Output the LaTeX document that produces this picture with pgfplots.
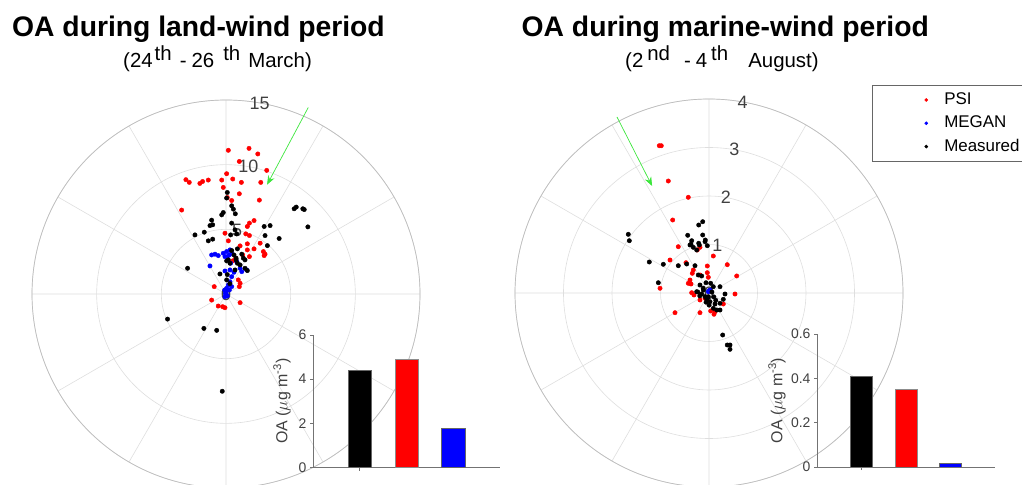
\documentclass[border=0pt]{standalone}
\usepackage{fontspec}
\setmainfont{Liberation Sans}
\usepackage{pgfplots}
\usepackage{pgfplotstable}
\pgfplotsset{compat=1.18}
\usepgfplotslibrary{polar}
\usetikzlibrary{arrows.meta}
\definecolor{gridc}{RGB}{222,222,222}
\definecolor{ringc}{RGB}{190,190,190}
\definecolor{txtc}{RGB}{64,64,64}
\definecolor{arrowc}{RGB}{60,230,60}
% points given as east/north components (x, y) of each (direction, OA) sample
\pgfplotstableread[row sep=\\]{x y\\
0.18 11.11\\ 1.78 11.26\\ 2.46 10.83\\ 1.03 10.25\\ 3.15 9.56\\ -3.10 8.84\\ -2.84 8.63\\ -2.02 8.55\\ -1.81 8.70\\ -1.37 8.81\\ -0.33 8.81\\ 0.52 8.89\\ 1.19 8.63\\ 2.69 8.63\\ -0.21 8.24\\ 0.05 9.30\\ 1.03 7.75\\ 0.44 7.23\\ 2.58 7.26\\ -3.43 6.49\\ 0.10 7.46\\ 1.81 5.48\\ 2.17 5.68\\ 1.65 5.22\\ 1.53 4.65\\ 1.81 4.52\\ -0.08 4.70\\ 1.65 3.88\\ 1.09 3.72\\ 2.64 3.93\\ 2.89 3.28\\ 3.02 3.08\\ 1.65 3.41\\ 0.18 4.11\\ 2.17 3.49\\ 1.29 3.02\\ 0.75 2.77\\ 0.52 2.56\\ -0.91 0.57\\ -1.11 -0.47\\ -0.60 -0.93\\ -0.26 -0.98\\ -0.08 -1.06\\ 1.09 -0.67\\ 0.95 1.09\\ 1.09 0.83\\ 1.81 2.89\\ 2.95 2.97\\ 1.03 0.57\\
}\leftpsi
\pgfplotstableread[row sep=\\]{x y\\
-1.11 3.02\\ -0.85 3.08\\ -0.60 2.97\\ -0.21 3.15\\ 0.05 3.28\\ 0.31 3.41\\ 0.26 3.02\\ -0.08 2.89\\ 0.44 3.15\\ -1.24 2.17\\ -0.08 1.78\\ 0.31 1.86\\ 0.62 1.68\\ 0.44 1.34\\ 0.31 0.95\\ 0.18 0.70\\ 0.05 0.44\\ 0.01 0.18\\ 0.05 -0.08\\ -0.08 -0.21\\ 1.22 1.73\\ 1.09 1.99\\ 0.10 2.89\\ 0.36 2.38\\ 0.83 2.50\\ 1.60 1.86\\ 0.44 0.57\\ 0.26 0.31\\ -0.05 0.05\\ 0.1 -0.15\\ -0.1 0.3\\
}\leftmegan
\pgfplotstableread[row sep=\\]{x y\\
0.10 7.85\\ 0.05 7.42\\ 0.44 6.82\\ 0.57 6.56\\ 0.72 6.20\\ -0.21 6.30\\ -0.33 6.12\\ -1.11 5.71\\ -1.03 5.35\\ -1.24 5.29\\ -2.40 4.57\\ -1.68 4.78\\ 0.44 5.48\\ 0.70 4.96\\ 0.36 4.57\\ 0.83 4.65\\ 2.95 5.22\\ 3.41 5.29\\ 3.02 4.52\\ 4.11 4.29\\ 3.20 3.74\\ 6.33 5.19\\ 5.27 6.59\\ 5.43 6.72\\ 5.94 6.59\\ 6.05 6.53\\ -1.03 4.24\\ -1.37 4.11\\ 0.44 3.36\\ 0.88 3.49\\ 0.62 3.02\\ 1.22 3.08\\ 0.78 2.64\\ 0.05 2.56\\ 0.31 2.38\\ 0.88 2.38\\ 1.47 2.64\\ -2.97 1.99\\ -0.47 1.55\\ 0.05 1.09\\ 0.70 1.86\\ 1.09 2.25\\ 1.47 1.99\\ 1.65 1.81\\ 0.18 2.64\\ 0.78 2.77\\ 1.34 2.77\\ -4.52 -1.94\\ -1.71 -2.66\\ -0.72 -2.81\\ -0.29 -7.52\\ 0.1 1.5\\ 0.3 0.8\\
}\leftmeas
\pgfplotstableread[row sep=\\]{x y\\
-1.025 3.037\\ -0.984 3.037\\ -0.839 2.309\\ -0.427 1.973\\ -0.749 1.505\\ -0.633 0.955\\ -0.186 0.942\\ -0.241 0.887\\ -0.035 0.557\\ 0.377 0.584\\ -0.804 0.680\\ -0.474 0.625\\ -0.324 0.474\\ -0.344 0.406\\ -0.035 0.419\\ -0.014 0.324\\ -0.392 0.268\\ -0.427 0.200\\ -0.371 0.186\\ -1.010 0.097\\ -0.357 0.006\\ -0.309 -0.041\\ 0.571 0.351\\ 0.536 -0.021\\ -0.186 -0.144\\ -0.082 -0.109\\ 0.035 -0.371\\ 0.103 -0.439\\ -0.186 -0.406\\ -0.701 -0.406\\ -0.186 0.371\\ 0.089 0.763\\ 0.295 -0.227\\ 0.124 -0.386\\
}\rightpsi
\pgfplotstableread[row sep=\\]{x y\\
-0.014 0.027\\ 0.021 0.062\\ 0.002 0.04\\ 0.01 0.05\\
}\rightmegan
\pgfplotstableread[row sep=\\]{x y\\
-0.212 1.402\\ -0.130 1.470\\ -1.664 1.210\\ -1.643 1.078\\ -0.439 1.190\\ -0.357 1.078\\ -0.212 1.025\\ -0.130 1.196\\ -0.076 1.093\\ -0.035 0.975\\ -0.392 0.990\\ -0.324 0.942\\ -1.231 0.639\\ -0.942 0.592\\ -0.633 0.563\\ -0.460 0.598\\ -0.289 0.563\\ -0.221 0.371\\ -0.151 0.351\\ -0.062 0.212\\ 0.035 0.200\\ 0.227 0.130\\ 0.089 0.130\\ -1.045 0.212\\ -0.186 0.165\\ -0.254 0.027\\ -0.151 -0.021\\ -0.082 -0.076\\ -0.047 -0.130\\ 0.021 -0.179\\ 0.124 -0.227\\ 0.227 -0.212\\ 0.295 -0.130\\ 0.330 -0.021\\ 0.227 -0.351\\ 0.159 -0.351\\ 0.089 -0.315\\ -0.014 -0.076\\ -0.118 0.062\\ -0.035 -0.109\\ 0.282 -0.866\\ 0.377 -1.072\\ 0.433 -1.072\\ 0.433 -1.161\\ -0.371 1.004\\ -0.200 0.990\\ -0.082 1.058\\ -0.254 0.887\\ -0.12 0.10\\ -0.23 0.02\\ -0.19 -0.06\\ 0.06 0.02\\ -0.06 -0.19\\ 0.002 -0.25\\ 0.14 -0.15\\ 0.10 -0.08\\
}\rightmeas
\tikzset{plab/.style={text=txtc, font=\fontsize{18}{20}\selectfont}}
\pgfplotsset{
 table/cart/.style={x expr={atan2(\thisrow{y},\thisrow{x})}, y expr={veclen(\thisrow{x},\thisrow{y})}},
 mypolar/.style={
   scale only axis, width=388bp, height=388bp,
   anchor=origin, clip=false,
   xtick={0,30,...,330}, xticklabels={}, yticklabels={},
   ymin=0, grid=major, major grid style={gridc, line width=0.6bp},
   x axis line style={ringc, line width=0.7bp}, y axis line style={draw=none},
   major tick length=0pt,
 },
 mybar/.style={
   scale only axis, anchor=origin, xmin=0, xmax=4, ymin=0,
   axis x line=bottom, axis y line=left,
   axis line style={-, black!55, line width=0.6bp},
   tick align=outside, major tick length=3bp, tick style={black!55, line width=0.6bp},
   xtick={1}, xticklabels={},
   tick label style={font=\fontsize{14}{16}\selectfont, text=txtc},
   /pgf/number format/assume math mode=true,
   ylabel={OA ($\mu$g m\textsuperscript{-3})},
   ylabel style={anchor=center, font=\fontsize{16}{18}\selectfont, text=txtc},
   ybar, bar width=0.5, bar shift=0pt,
 },
 dot/.style={only marks, mark=*, mark size=2.2bp},
}
\begin{document}
\begin{tikzpicture}
\useasboundingbox (0,0) rectangle (1022bp,485bp);
\clip (0,0) rectangle (1022bp,485bp);

% ---------- left polar ----------
\begin{polaraxis}[mypolar, at={(226bp,191bp)}, ymax=15, ytick={5,10,15}]
\addplot[dot, red] table[cart] {\leftpsi};
\addplot[dot, blue] table[cart] {\leftmegan};
\addplot[dot, black] table[cart] {\leftmeas};
\addplot[arrowc, line width=0.7bp, -{Stealth[length=9bp,width=7bp,inset=3bp]}] coordinates {(66.2,15.76)(69.4,9.03)};
\node[plab] at (axis cs:80,0) {0};
\node[plab] at (axis cs:80,5) {5};
\node[plab] at (axis cs:80,10) {10};
\node[plab] at (axis cs:80,15) {15};
\end{polaraxis}

% ---------- right polar ----------
\begin{polaraxis}[mypolar, at={(709bp,192bp)}, ymax=4, ytick={1,2,3,4}]
\addplot[dot, red] table[cart] {\rightpsi};
\addplot[dot, blue] table[cart] {\rightmegan};
\addplot[dot, black] table[cart] {\rightmeas};
\addplot[arrowc, line width=0.7bp, -{Stealth[length=9bp,width=7bp,inset=3bp]}] coordinates {(117.6,4.095)(118.0,2.499)};
\node[plab] at (axis cs:80,0) {0};
\node[plab] at (axis cs:80,1) {1};
\node[plab] at (axis cs:80,2) {2};
\node[plab] at (axis cs:80,3) {3};
\node[plab] at (axis cs:80,4) {4};
\end{polaraxis}

% ---------- left bars ----------
\begin{axis}[mybar, at={(313bp,17.5bp)}, width=187bp, height=132.5bp, ymax=6, ytick={0,2,4,6},
  ylabel style={at={(axis description cs:-0.166,0.5)}}]
\addplot[fill=black, draw=black!60] coordinates {(1,4.41)};
\addplot[fill=red, draw=black!45] coordinates {(2,4.92)};
\addplot[fill=blue, draw=black!60] coordinates {(3,1.76)};
\end{axis}

% ---------- right bars ----------
\begin{axis}[mybar, at={(817bp,18bp)}, width=178bp, height=133bp, ymax=0.6, ytick={0,0.2,0.4,0.6},
  ylabel style={at={(axis description cs:-0.225,0.5)}}]
\addplot[fill=black, draw=black!60] coordinates {(1,0.41)};
\addplot[fill=red, draw=black!45] coordinates {(2,0.352)};
\addplot[fill=blue, draw=black!60] coordinates {(3,0.015)};
\end{axis}

% ---------- titles ----------
\node[anchor=base west, inner sep=0pt, font=\fontsize{28.4}{30}\selectfont\bfseries] at (12bp,448bp) {OA during land-wind period};
\node[anchor=base west, inner sep=0pt, font=\fontsize{20.5}{24}\selectfont] at (123bp,417bp) {(24\kern2bp\raisebox{7.5bp}{th}\kern8bp-\kern5bp26\kern9bp\raisebox{7.5bp}{th}\kern8bp March)};
\node[anchor=base west, inner sep=0pt, font=\fontsize{28.4}{30}\selectfont\bfseries] at (521.5bp,448bp) {OA during marine-wind period};
\node[anchor=base west, inner sep=0pt, font=\fontsize{20.5}{24}\selectfont] at (625bp,417bp) {(2\kern4bp\raisebox{7.5bp}{nd}\kern14bp-\kern5bp4\kern4bp\raisebox{7.5bp}{th}\kern20bp August)};

% ---------- legend ----------
\begin{axis}[at={(0,0)}, anchor=south west, scale only axis, width=1022bp, height=485bp,
  xmin=0, xmax=1022, ymin=0, ymax=485, hide axis,
  legend style={at={(axis description cs:0.8532,0.8244)}, anchor=north west,
    draw=black!60, line width=0.6bp, font=\fontsize{17}{19}\selectfont,
    legend cell align=left, inner xsep=3bp, inner ysep=5bp, row sep=4.3bp,
    nodes={text height=12bp, text depth=3bp, inner ysep=2bp}},
  legend image code/.code={\path (0bp,0bp) -- (67bp,0bp); \draw[#1] plot coordinates {(51bp,0bp)};}]
\addlegendimage{mark=*, red, draw=none, mark size=1.5bp}
\addlegendentry{PSI}
\addlegendimage{mark=*, blue, draw=none, mark size=1.5bp}
\addlegendentry{MEGAN}
\addlegendimage{mark=*, black, draw=none, mark size=1.5bp}
\addlegendentry{Measured}
\end{axis}
\end{tikzpicture}
\end{document}
